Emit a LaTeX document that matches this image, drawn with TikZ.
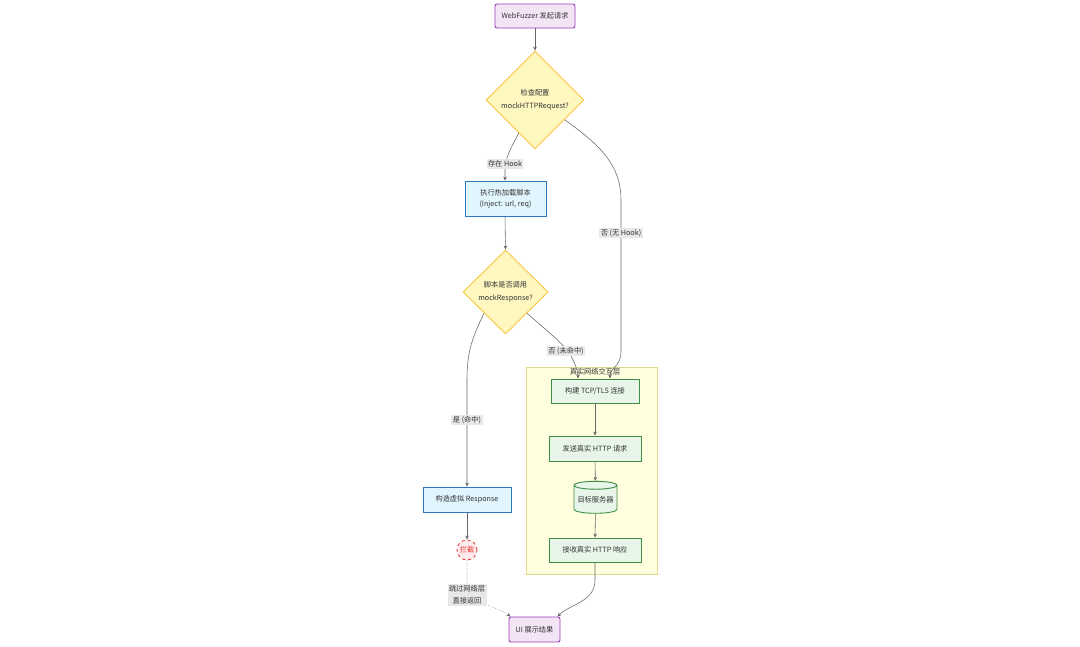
\documentclass[tikz,border=0pt]{standalone}
\usepackage{fontspec}
\setmainfont{Noto Sans CJK SC}
\usetikzlibrary{shapes.geometric,arrows.meta,calc}
\definecolor{txt}{HTML}{333333}
\definecolor{purB}{HTML}{9C3DB8}
\definecolor{purF}{HTML}{F3E5F5}
\definecolor{yelB}{HTML}{F5C842}
\definecolor{yelF}{HTML}{FFF7C0}
\definecolor{bluB}{HTML}{2A78C0}
\definecolor{bluF}{HTML}{E1F5FE}
\definecolor{grnB}{HTML}{3E8E45}
\definecolor{grnF}{HTML}{E8F5E9}
\definecolor{redB}{HTML}{E53935}
\definecolor{redF}{HTML}{FFEBEE}
\definecolor{cluB}{HTML}{DADA8A}
\definecolor{cluF}{HTML}{FFFEDE}
\definecolor{lin}{HTML}{666666}
\definecolor{labF}{HTML}{E8E8E8}
\begin{document}
\begin{tikzpicture}[x=1pt,y=-1pt,
  font=\fontsize{7.2}{11}\selectfont,
  base/.style={draw, line width=0.9pt, align=center, text=txt, inner sep=0pt},
  termbox/.style={base, rounded corners=2pt, draw=purB, fill=purF, minimum height=24},
  decision/.style={base, diamond, draw=yelB, fill=yelF},
  procbox/.style={base, rectangle, draw=bluB, fill=bluF},
  netbox/.style={base, rectangle, draw=grnB, fill=grnF, minimum width=90, minimum height=24},
  flow/.style={draw=lin, line width=0.55pt, -{Stealth[length=4pt,width=3.6pt]}},
  elabel/.style={fill=labF, inner sep=1.5pt, text=txt, align=center}]
\useasboundingbox (0,0) rectangle (1080,646);
\fill[white] (0,0) rectangle (1080,646);

% cluster
\draw[fill=cluF, draw=cluB, line width=0.7pt] (526,367) rectangle (657,574);
\node[text=txt] (clulab) at (595,372) {真实网络交互层};

% nodes
\node[termbox, minimum width=80] (start) at (535,16) {WebFuzzer 发起请求};
\node[decision, minimum width=98, minimum height=98] (d1) at (535,100) {检查配置\\[2pt]mockHTTPRequest?};
\node[procbox, minimum width=81, minimum height=35] (b2) at (505.5,198.5) {执行热加载脚本\\(Inject: url, req)};
\node[decision, minimum width=85, minimum height=84] (d2) at (505.5,292) {脚本是否调用\\[2pt]mockResponse?};
\node[procbox, minimum width=88, minimum height=25] (resp) at (467,499.5) {构造虚拟 Response};
\node[base, circle, draw=redB, fill=redF, dashed, line width=0.8pt, text=redB, minimum size=20] (cut) at (467,550) {拦截};
\node[netbox, minimum width=88] (tcp) at (595,391) {构建 TCP/TLS 连接};
\node[netbox, minimum width=92, minimum height=25] (req) at (595,448.5) {发送真实 HTTP 请求};
\node[base, cylinder, shape border rotate=90, aspect=0.22, draw=grnB, fill=grnF, minimum width=43, minimum height=32] (srv) at (595.5,499.5) {目标服务器};
\node[netbox, minimum width=92] (recv) at (595,550) {接收真实 HTTP 响应};
\node[termbox, minimum width=51, minimum height=25] (ui) at (534.5,629.5) {UI 展示结果};

% edges
\draw[flow] (start) -- (d1);
\draw[flow] ($(d1.west)!0.67!(d1.south)$) .. controls (511,148) and (505,158) .. (505,170) -- (b2.north -| 505,0);
\draw[flow] ($(d1.east)!0.4!(d1.south)$) .. controls (600,145) and (621,165) .. (621,200) -- (621,352) .. controls (621,366) and (610,368) .. ([xshift=15]tcp.north);
\draw[flow] (b2.south -| 505,0) -- (d2.north);
\draw[flow] (d2.south east) .. controls (548,332) and (566,345) .. (572,358) .. controls (576,366) and (578,372) .. ([xshift=-17]tcp.north);
\draw[flow] (d2.south west) .. controls (472,338) and (467,352) .. (467,380) -- (resp.north);
\draw[flow] (resp) -- (cut);
\draw[draw=lin, line width=0.55pt, dotted, -{Stealth[length=4pt,width=3.6pt]}] (cut.south) -- (467,588) .. controls (467,600) and (500,608) .. ([xshift=-24]ui.north);
\draw[flow] (tcp) -- (req);
\draw[flow] (req) -- (srv);
\draw[flow] (srv) -- (recv);
\draw[flow] (recv.south) -- (595,580) .. controls (595,602) and (570,604) .. ([xshift=23]ui.north);

% edge labels
\node[elabel] (l1) at (505,164) {存在 Hook};
\node[elabel] (l2) at (621,233) {否 (无 Hook)};
\node[elabel] (l3) at (566,351) {否 (未命中)};
\node[elabel] (l4) at (467,420) {是 (命中)};
\node[elabel, font=\fontsize{7.2}{12}\selectfont] (l5) at (467,595) {跳过网络层\\直接返回};
\end{tikzpicture}
\end{document}
